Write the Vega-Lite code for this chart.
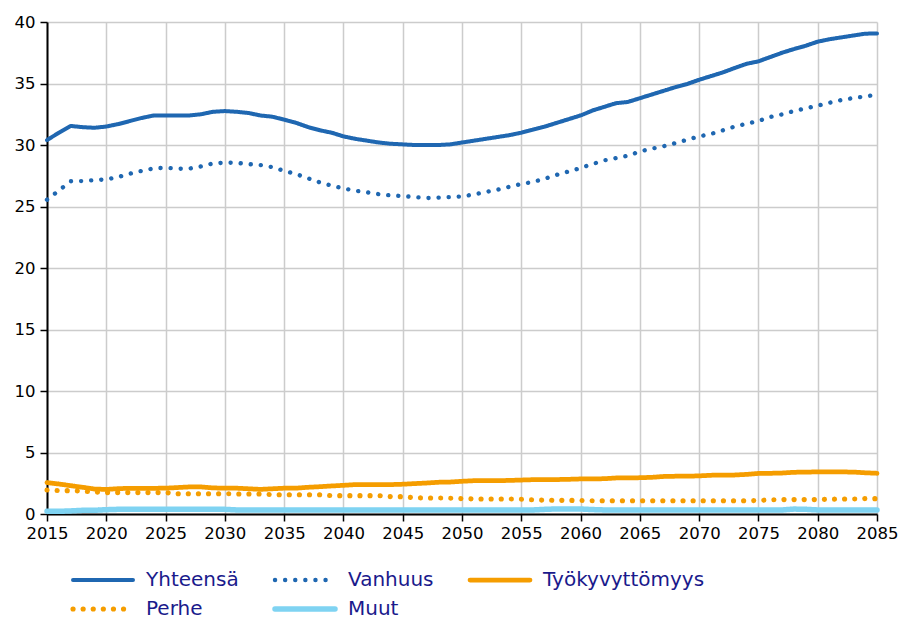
{
  "$schema": "https://vega.github.io/schema/vega-lite/v6.json",
  "autosize": "none",
  "width": 830,
  "height": 492,
  "padding": {"left": 47, "top": 22, "right": 32, "bottom": 105},
  "background": "white",
  "data": {"values": [
    {"vuosi": 2015, "Yhteensä": 30.4, "Vanhuus": 25.55, "Työkyvyttömyys": 2.55, "Perhe": 1.95, "Muut": 0.22},
    {"vuosi": 2016, "Yhteensä": 31.0, "Vanhuus": 26.3, "Työkyvyttömyys": 2.44, "Perhe": 1.9, "Muut": 0.22},
    {"vuosi": 2017, "Yhteensä": 31.55, "Vanhuus": 27.05, "Työkyvyttömyys": 2.3, "Perhe": 1.9, "Muut": 0.25},
    {"vuosi": 2018, "Yhteensä": 31.45, "Vanhuus": 27.07, "Työkyvyttömyys": 2.17, "Perhe": 1.85, "Muut": 0.3},
    {"vuosi": 2019, "Yhteensä": 31.4, "Vanhuus": 27.15, "Työkyvyttömyys": 2.03, "Perhe": 1.79, "Muut": 0.3},
    {"vuosi": 2020, "Yhteensä": 31.5, "Vanhuus": 27.2, "Työkyvyttömyys": 2.0, "Perhe": 1.74, "Muut": 0.35},
    {"vuosi": 2021, "Yhteensä": 31.7, "Vanhuus": 27.4, "Työkyvyttömyys": 2.06, "Perhe": 1.74, "Muut": 0.38},
    {"vuosi": 2022, "Yhteensä": 31.95, "Vanhuus": 27.67, "Työkyvyttömyys": 2.09, "Perhe": 1.74, "Muut": 0.38},
    {"vuosi": 2023, "Yhteensä": 32.2, "Vanhuus": 27.9, "Työkyvyttömyys": 2.09, "Perhe": 1.74, "Muut": 0.38},
    {"vuosi": 2024, "Yhteensä": 32.4, "Vanhuus": 28.1, "Työkyvyttömyys": 2.09, "Perhe": 1.74, "Muut": 0.38},
    {"vuosi": 2025, "Yhteensä": 32.4, "Vanhuus": 28.15, "Työkyvyttömyys": 2.1, "Perhe": 1.74, "Muut": 0.38},
    {"vuosi": 2026, "Yhteensä": 32.4, "Vanhuus": 28.07, "Työkyvyttömyys": 2.15, "Perhe": 1.65, "Muut": 0.38},
    {"vuosi": 2027, "Yhteensä": 32.4, "Vanhuus": 28.08, "Työkyvyttömyys": 2.2, "Perhe": 1.65, "Muut": 0.38},
    {"vuosi": 2028, "Yhteensä": 32.5, "Vanhuus": 28.26, "Työkyvyttömyys": 2.2, "Perhe": 1.65, "Muut": 0.38},
    {"vuosi": 2029, "Yhteensä": 32.7, "Vanhuus": 28.5, "Työkyvyttömyys": 2.12, "Perhe": 1.65, "Muut": 0.38},
    {"vuosi": 2030, "Yhteensä": 32.76, "Vanhuus": 28.56, "Työkyvyttömyys": 2.1, "Perhe": 1.65, "Muut": 0.38},
    {"vuosi": 2031, "Yhteensä": 32.7, "Vanhuus": 28.55, "Työkyvyttömyys": 2.1, "Perhe": 1.63, "Muut": 0.33},
    {"vuosi": 2032, "Yhteensä": 32.6, "Vanhuus": 28.45, "Työkyvyttömyys": 2.05, "Perhe": 1.63, "Muut": 0.33},
    {"vuosi": 2033, "Yhteensä": 32.4, "Vanhuus": 28.37, "Työkyvyttömyys": 2.0, "Perhe": 1.63, "Muut": 0.33},
    {"vuosi": 2034, "Yhteensä": 32.3, "Vanhuus": 28.2, "Työkyvyttömyys": 2.05, "Perhe": 1.57, "Muut": 0.33},
    {"vuosi": 2035, "Yhteensä": 32.06, "Vanhuus": 27.9, "Työkyvyttömyys": 2.1, "Perhe": 1.57, "Muut": 0.33},
    {"vuosi": 2036, "Yhteensä": 31.8, "Vanhuus": 27.64, "Työkyvyttömyys": 2.1, "Perhe": 1.57, "Muut": 0.33},
    {"vuosi": 2037, "Yhteensä": 31.46, "Vanhuus": 27.3, "Työkyvyttömyys": 2.17, "Perhe": 1.57, "Muut": 0.33},
    {"vuosi": 2038, "Yhteensä": 31.2, "Vanhuus": 26.96, "Työkyvyttömyys": 2.22, "Perhe": 1.57, "Muut": 0.33},
    {"vuosi": 2039, "Yhteensä": 31.0, "Vanhuus": 26.7, "Työkyvyttömyys": 2.28, "Perhe": 1.49, "Muut": 0.33},
    {"vuosi": 2040, "Yhteensä": 30.7, "Vanhuus": 26.47, "Työkyvyttömyys": 2.33, "Perhe": 1.49, "Muut": 0.33},
    {"vuosi": 2041, "Yhteensä": 30.5, "Vanhuus": 26.28, "Työkyvyttömyys": 2.39, "Perhe": 1.49, "Muut": 0.33},
    {"vuosi": 2042, "Yhteensä": 30.35, "Vanhuus": 26.15, "Työkyvyttömyys": 2.39, "Perhe": 1.49, "Muut": 0.33},
    {"vuosi": 2043, "Yhteensä": 30.2, "Vanhuus": 26.0, "Työkyvyttömyys": 2.39, "Perhe": 1.49, "Muut": 0.33},
    {"vuosi": 2044, "Yhteensä": 30.1, "Vanhuus": 25.9, "Työkyvyttömyys": 2.39, "Perhe": 1.41, "Muut": 0.33},
    {"vuosi": 2045, "Yhteensä": 30.05, "Vanhuus": 25.85, "Työkyvyttömyys": 2.42, "Perhe": 1.41, "Muut": 0.33},
    {"vuosi": 2046, "Yhteensä": 30.0, "Vanhuus": 25.77, "Työkyvyttömyys": 2.47, "Perhe": 1.32, "Muut": 0.33},
    {"vuosi": 2047, "Yhteensä": 30.0, "Vanhuus": 25.69, "Työkyvyttömyys": 2.52, "Perhe": 1.3, "Muut": 0.33},
    {"vuosi": 2048, "Yhteensä": 30.0, "Vanhuus": 25.72, "Työkyvyttömyys": 2.58, "Perhe": 1.3, "Muut": 0.33},
    {"vuosi": 2049, "Yhteensä": 30.05, "Vanhuus": 25.77, "Työkyvyttömyys": 2.6, "Perhe": 1.28, "Muut": 0.33},
    {"vuosi": 2050, "Yhteensä": 30.2, "Vanhuus": 25.82, "Työkyvyttömyys": 2.66, "Perhe": 1.25, "Muut": 0.33},
    {"vuosi": 2051, "Yhteensä": 30.35, "Vanhuus": 25.98, "Työkyvyttömyys": 2.71, "Perhe": 1.22, "Muut": 0.33},
    {"vuosi": 2052, "Yhteensä": 30.5, "Vanhuus": 26.18, "Työkyvyttömyys": 2.71, "Perhe": 1.22, "Muut": 0.33},
    {"vuosi": 2053, "Yhteensä": 30.65, "Vanhuus": 26.37, "Työkyvyttömyys": 2.71, "Perhe": 1.22, "Muut": 0.33},
    {"vuosi": 2054, "Yhteensä": 30.8, "Vanhuus": 26.6, "Työkyvyttömyys": 2.73, "Perhe": 1.22, "Muut": 0.33},
    {"vuosi": 2055, "Yhteensä": 31.0, "Vanhuus": 26.83, "Työkyvyttömyys": 2.76, "Perhe": 1.2, "Muut": 0.33},
    {"vuosi": 2056, "Yhteensä": 31.25, "Vanhuus": 27.0, "Työkyvyttömyys": 2.79, "Perhe": 1.15, "Muut": 0.33},
    {"vuosi": 2057, "Yhteensä": 31.5, "Vanhuus": 27.26, "Työkyvyttömyys": 2.79, "Perhe": 1.12, "Muut": 0.38},
    {"vuosi": 2058, "Yhteensä": 31.8, "Vanhuus": 27.58, "Työkyvyttömyys": 2.8, "Perhe": 1.11, "Muut": 0.41},
    {"vuosi": 2059, "Yhteensä": 32.1, "Vanhuus": 27.85, "Työkyvyttömyys": 2.82, "Perhe": 1.11, "Muut": 0.41},
    {"vuosi": 2060, "Yhteensä": 32.4, "Vanhuus": 28.13, "Työkyvyttömyys": 2.85, "Perhe": 1.1, "Muut": 0.41},
    {"vuosi": 2061, "Yhteensä": 32.8, "Vanhuus": 28.45, "Työkyvyttömyys": 2.85, "Perhe": 1.08, "Muut": 0.36},
    {"vuosi": 2062, "Yhteensä": 33.1, "Vanhuus": 28.75, "Työkyvyttömyys": 2.87, "Perhe": 1.08, "Muut": 0.33},
    {"vuosi": 2063, "Yhteensä": 33.4, "Vanhuus": 28.94, "Työkyvyttömyys": 2.93, "Perhe": 1.08, "Muut": 0.33},
    {"vuosi": 2064, "Yhteensä": 33.5, "Vanhuus": 29.13, "Työkyvyttömyys": 2.93, "Perhe": 1.08, "Muut": 0.33},
    {"vuosi": 2065, "Yhteensä": 33.8, "Vanhuus": 29.48, "Työkyvyttömyys": 2.95, "Perhe": 1.08, "Muut": 0.33},
    {"vuosi": 2066, "Yhteensä": 34.1, "Vanhuus": 29.7, "Työkyvyttömyys": 2.98, "Perhe": 1.08, "Muut": 0.33},
    {"vuosi": 2067, "Yhteensä": 34.4, "Vanhuus": 29.9, "Työkyvyttömyys": 3.05, "Perhe": 1.08, "Muut": 0.33},
    {"vuosi": 2068, "Yhteensä": 34.7, "Vanhuus": 30.16, "Työkyvyttömyys": 3.07, "Perhe": 1.08, "Muut": 0.33},
    {"vuosi": 2069, "Yhteensä": 34.96, "Vanhuus": 30.43, "Työkyvyttömyys": 3.07, "Perhe": 1.08, "Muut": 0.33},
    {"vuosi": 2070, "Yhteensä": 35.3, "Vanhuus": 30.7, "Työkyvyttömyys": 3.1, "Perhe": 1.08, "Muut": 0.33},
    {"vuosi": 2071, "Yhteensä": 35.6, "Vanhuus": 30.9, "Työkyvyttömyys": 3.15, "Perhe": 1.08, "Muut": 0.33},
    {"vuosi": 2072, "Yhteensä": 35.9, "Vanhuus": 31.19, "Työkyvyttömyys": 3.17, "Perhe": 1.08, "Muut": 0.33},
    {"vuosi": 2073, "Yhteensä": 36.26, "Vanhuus": 31.5, "Työkyvyttömyys": 3.17, "Perhe": 1.08, "Muut": 0.33},
    {"vuosi": 2074, "Yhteensä": 36.6, "Vanhuus": 31.73, "Työkyvyttömyys": 3.22, "Perhe": 1.08, "Muut": 0.33},
    {"vuosi": 2075, "Yhteensä": 36.8, "Vanhuus": 31.95, "Työkyvyttömyys": 3.3, "Perhe": 1.1, "Muut": 0.33},
    {"vuosi": 2076, "Yhteensä": 37.15, "Vanhuus": 32.28, "Työkyvyttömyys": 3.31, "Perhe": 1.15, "Muut": 0.33},
    {"vuosi": 2077, "Yhteensä": 37.5, "Vanhuus": 32.49, "Työkyvyttömyys": 3.33, "Perhe": 1.17, "Muut": 0.33},
    {"vuosi": 2078, "Yhteensä": 37.8, "Vanhuus": 32.76, "Työkyvyttömyys": 3.39, "Perhe": 1.17, "Muut": 0.4},
    {"vuosi": 2079, "Yhteensä": 38.07, "Vanhuus": 32.98, "Työkyvyttömyys": 3.41, "Perhe": 1.17, "Muut": 0.38},
    {"vuosi": 2080, "Yhteensä": 38.4, "Vanhuus": 33.2, "Työkyvyttömyys": 3.42, "Perhe": 1.17, "Muut": 0.33},
    {"vuosi": 2081, "Yhteensä": 38.6, "Vanhuus": 33.44, "Työkyvyttömyys": 3.42, "Perhe": 1.2, "Muut": 0.33},
    {"vuosi": 2082, "Yhteensä": 38.75, "Vanhuus": 33.66, "Työkyvyttömyys": 3.42, "Perhe": 1.22, "Muut": 0.33},
    {"vuosi": 2083, "Yhteensä": 38.9, "Vanhuus": 33.82, "Työkyvyttömyys": 3.41, "Perhe": 1.22, "Muut": 0.33},
    {"vuosi": 2084, "Yhteensä": 39.05, "Vanhuus": 33.95, "Työkyvyttömyys": 3.35, "Perhe": 1.25, "Muut": 0.33},
    {"vuosi": 2085, "Yhteensä": 39.07, "Vanhuus": 34.09, "Työkyvyttömyys": 3.31, "Perhe": 1.25, "Muut": 0.33}
  ]},
  "transform": [
    {"fold": ["Yhteensä", "Vanhuus", "Työkyvyttömyys", "Perhe", "Muut"], "as": ["sarja", "arvo"]}
  ],
  "mark": {"type": "line", "strokeCap": "round", "strokeJoin": "round", "clip": false},
  "encoding": {
    "x": {
      "field": "vuosi", "type": "quantitative",
      "scale": {"domain": [2015, 2085], "nice": false, "zero": false},
      "axis": {"title": null, "values": [2015, 2020, 2025, 2030, 2035, 2040, 2045, 2050, 2055, 2060, 2065, 2070, 2075, 2080, 2085], "format": "d", "labelPadding": 4, "labelOverlap": false, "labelFlush": false, "labelBound": false}
    },
    "y": {
      "field": "arvo", "type": "quantitative",
      "scale": {"domain": [0, 40], "nice": false},
      "axis": {"title": null, "values": [0, 5, 10, 15, 20, 25, 30, 35, 40], "labelPadding": 5, "labelFlush": false}
    },
    "color": {
      "field": "sarja", "type": "nominal",
      "scale": {"domain": ["Yhteensä", "Vanhuus", "Työkyvyttömyys", "Perhe", "Muut"], "range": ["#1f67b1", "#1f67b1", "#f59d00", "#f59d00", "#7fd3f2"]},
      "legend": {"title": null, "encode": {"symbols": {"update": {"strokeCap": {"value": "round"}}}}}
    },
    "strokeDash": {
      "field": "sarja", "type": "nominal",
      "scale": {"domain": ["Yhteensä", "Vanhuus", "Työkyvyttömyys", "Perhe", "Muut"], "range": [[1, 0], [0.1, 10], [1, 0], [0.1, 10], [1, 0]]},
      "legend": {"title": null, "encode": {"symbols": {"update": {"strokeCap": {"value": "round"}}}}}
    },
    "strokeWidth": {
      "field": "sarja", "type": "nominal",
      "scale": {"domain": ["Yhteensä", "Vanhuus", "Työkyvyttömyys", "Perhe", "Muut"], "range": [4, 5.5, 4, 5.5, 4]},
      "legend": {"title": null, "encode": {"symbols": {"update": {"strokeCap": {"value": "round"}}}}}
    },
    "order": {"field": "vuosi", "type": "quantitative"}
  },
  "config": {
    "font": "DejaVu Sans",
    "view": {"stroke": null},
    "axis": {
      "labelFont": "DejaVu Sans", "labelFontSize": 16.5, "labelColor": "#000000",
      "domainColor": "#000000", "domainWidth": 2, "tickColor": "#000000", "tickWidth": 1.5, "tickSize": 7,
      "gridColor": "#cccccc", "gridWidth": 1.5
    },
    "legend": {
      "orient": "none", "legendX": 23, "legendY": 548, "direction": "horizontal", "columns": 3,
      "symbolType": "stroke", "symbolSize": 3600, "symbolOffset": 0, "clipHeight": 20,
      "labelFont": "DejaVu Sans", "labelFontSize": 20, "labelColor": "#1a1a8c", "labelOffset": 10, "labelLimit": 300,
      "rowPadding": 9, "columnPadding": 33, "gridAlign": "each"
    }
  }
}
